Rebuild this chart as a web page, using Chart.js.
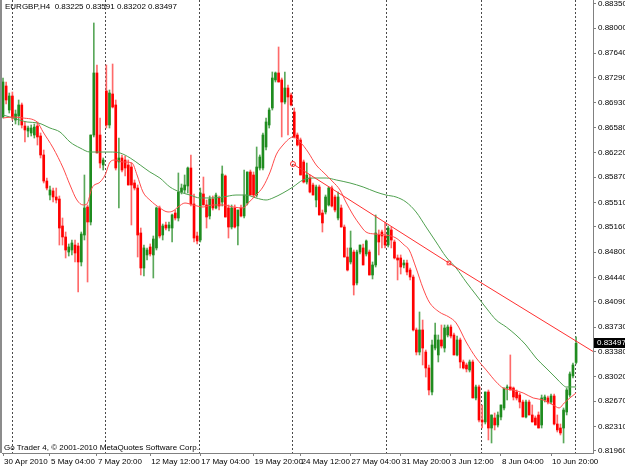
<!DOCTYPE html>
<html>
<head>
<meta charset="utf-8">
<title>EURGBP H4</title>
<script src="https://cdn.jsdelivr.net/npm/chart.js"></script>
<style>
  * { margin: 0; padding: 0; }
  body { background: #fff; }
  .wrap { position: relative; width: 625px; height: 469px; }
  .wrap canvas { position: absolute; left: 0; top: 0; }
  .info { position: absolute; font-family: "Liberation Sans", sans-serif; font-size: 8px; color: #000; white-space: pre; line-height: 10px; }
  #title { left: 5px; top: 2px; }
  #copy { left: 4px; top: 443px; }
  .frame { position: absolute; left: 0; top: 0; width: 2px; height: 453px; background: #8c8c8c; }
</style>
</head>
<body>
<div class="wrap">
  <canvas id="chart" width="625" height="469"></canvas>
  <div class="frame"></div>
  <div class="info" id="title"></div>
  <div class="info" id="copy">Go Trader 4, © 2001-2010 MetaQuotes Software Corp.</div>
</div>
<script>
// EURGBP H4 candles, one entry per bar (oldest first)
const symbol = 'EURGBP,H4';

const opens = [
  0.86729, 0.87172, 0.86829, 0.87029, 0.86686, 0.86744, 0.86901, 0.86601, 0.86529, 0.86501,
  0.86472, 0.86601, 0.86458, 0.86187, 0.85815, 0.85615, 0.85673, 0.85587, 0.85558, 0.85173,
  0.85016, 0.84801, 0.84830, 0.84901, 0.84887, 0.84659, 0.85044, 0.85444, 0.85230, 0.86472,
  0.87358, 0.86472, 0.86044, 0.87101, 0.86615, 0.87058, 0.86901, 0.86087, 0.86144, 0.86115,
  0.86044, 0.86015, 0.85787, 0.85715, 0.85073, 0.84573, 0.84759, 0.84873, 0.84759, 0.84859,
  0.85430, 0.85044, 0.85187, 0.85144, 0.85144, 0.85358, 0.85287, 0.85658, 0.85687, 0.85744,
  0.86001, 0.85487, 0.85030, 0.84973, 0.85630, 0.85473, 0.85316, 0.85558, 0.85430, 0.85573,
  0.85515, 0.85887, 0.85430, 0.85158, 0.85430, 0.85173, 0.85430, 0.85316, 0.85501, 0.85944,
  0.85901, 0.85615, 0.86001, 0.86001, 0.86301, 0.86615, 0.86858, 0.87258, 0.87358, 0.87258,
  0.86943, 0.87143, 0.87043, 0.86801, 0.86472, 0.86401, 0.86087, 0.85801, 0.85858, 0.85758,
  0.85544, 0.85730, 0.85358, 0.85373, 0.85473, 0.85715, 0.85587, 0.85287, 0.85430, 0.85158,
  0.84730, 0.84659, 0.84801, 0.84359, 0.84801, 0.84859, 0.84773, 0.84801, 0.84473, 0.84616,
  0.85044, 0.85087, 0.85030, 0.84901, 0.85116, 0.84944, 0.84716, 0.84716, 0.84616, 0.84644,
  0.84544, 0.84444, 0.83688, 0.83373, 0.83688, 0.83373, 0.83145, 0.82802, 0.83430, 0.83331,
  0.83545, 0.83430, 0.83616, 0.83730, 0.83616, 0.83331, 0.83545, 0.83231, 0.83188, 0.83116,
  0.83231, 0.82717, 0.82874, 0.82402, 0.82374, 0.82802, 0.82288, 0.82431, 0.82331, 0.82445,
  0.82574, 0.82859, 0.82874, 0.82859, 0.82802, 0.82759, 0.82659, 0.82445, 0.82659, 0.82474,
  0.82431, 0.82474, 0.82331, 0.82688, 0.82717, 0.82659, 0.82745, 0.82345, 0.82288, 0.82288,
  0.82517, 0.82759, 0.83031, 0.83225
];
const highs = [
  0.87286, 0.87229, 0.87072, 0.87086, 0.86829, 0.86972, 0.86929, 0.86658, 0.86601, 0.86615,
  0.86629, 0.86658, 0.86501, 0.86258, 0.85858, 0.85744, 0.85715, 0.85715, 0.85601, 0.85287,
  0.85087, 0.84916, 0.84973, 0.84973, 0.84930, 0.85087, 0.85901, 0.85473, 0.86472, 0.88072,
  0.87472, 0.86715, 0.86144, 0.87472, 0.87115, 0.87486, 0.86972, 0.86429, 0.86187, 0.86172,
  0.86115, 0.86072, 0.85830, 0.85758, 0.85144, 0.84901, 0.84859, 0.84916, 0.85030, 0.85444,
  0.85458, 0.85201, 0.85230, 0.85230, 0.85344, 0.85401, 0.85930, 0.85772, 0.85901, 0.86015,
  0.86187, 0.85630, 0.85087, 0.85715, 0.85872, 0.85544, 0.85601, 0.85601, 0.85644, 0.85601,
  0.86030, 0.85901, 0.85473, 0.85473, 0.85473, 0.85401, 0.85473, 0.85972, 0.85944, 0.85972,
  0.85944, 0.86301, 0.86187, 0.86501, 0.86715, 0.86858, 0.87372, 0.87372, 0.87729, 0.87286,
  0.87372, 0.87186, 0.87072, 0.86858, 0.86501, 0.86429, 0.86115, 0.86072, 0.85901, 0.85787,
  0.85758, 0.85758, 0.85401, 0.85615, 0.85730, 0.85744, 0.85615, 0.85658, 0.85473, 0.85187,
  0.84859, 0.85101, 0.84830, 0.84830, 0.84901, 0.84916, 0.84973, 0.84830, 0.84659, 0.85330,
  0.85116, 0.85116, 0.85230, 0.85173, 0.85158, 0.84973, 0.84759, 0.84759, 0.84687, 0.84687,
  0.84573, 0.84473, 0.83716, 0.83945, 0.83830, 0.83402, 0.83188, 0.83545, 0.83788, 0.83616,
  0.83759, 0.83759, 0.83759, 0.83759, 0.83645, 0.83602, 0.83573, 0.83259, 0.83216, 0.83259,
  0.83259, 0.82902, 0.82902, 0.82617, 0.82802, 0.82831, 0.82474, 0.82502, 0.82517, 0.82617,
  0.82859, 0.82902, 0.83331, 0.82874, 0.82831, 0.82788, 0.82688, 0.82688, 0.82688, 0.82617,
  0.82460, 0.82517, 0.82759, 0.82759, 0.82745, 0.82774, 0.82774, 0.82474, 0.82345, 0.82574,
  0.82859, 0.83088, 0.83216, 0.83591
];
const lows = [
  0.86715, 0.86915, 0.86786, 0.86686, 0.86629, 0.86615, 0.86572, 0.86372, 0.86444, 0.86458,
  0.86429, 0.86329, 0.86144, 0.85787, 0.85687, 0.85544, 0.85515, 0.85501, 0.84901, 0.84901,
  0.84716, 0.84744, 0.84759, 0.84659, 0.84230, 0.84602, 0.84973, 0.84373, 0.85187, 0.86444,
  0.86215, 0.86001, 0.85972, 0.86572, 0.86572, 0.86858, 0.85972, 0.85430, 0.85944, 0.85887,
  0.85758, 0.85187, 0.85687, 0.84730, 0.84473, 0.84459, 0.84687, 0.84744, 0.84430, 0.84830,
  0.85001, 0.84973, 0.85116, 0.85101, 0.84944, 0.85258, 0.85244, 0.85630, 0.85644, 0.85644,
  0.85458, 0.84944, 0.84916, 0.84944, 0.85473, 0.85144, 0.85273, 0.85401, 0.85415, 0.85401,
  0.85458, 0.85301, 0.85001, 0.85130, 0.85144, 0.84901, 0.85301, 0.85287, 0.85473, 0.85615,
  0.85587, 0.85587, 0.85972, 0.85972, 0.86258, 0.86572, 0.86829, 0.87229, 0.87229, 0.86444,
  0.86915, 0.86472, 0.86886, 0.86429, 0.86315, 0.85901, 0.85787, 0.85772, 0.85644, 0.85615,
  0.85444, 0.85330, 0.85087, 0.85344, 0.85458, 0.85444, 0.85373, 0.85258, 0.85158, 0.84730,
  0.84530, 0.84630, 0.84187, 0.84330, 0.84773, 0.84616, 0.84744, 0.84473, 0.84416, 0.84587,
  0.84759, 0.84859, 0.84859, 0.84873, 0.84859, 0.84701, 0.84402, 0.84487, 0.84573, 0.84473,
  0.84402, 0.83673, 0.83331, 0.83331, 0.83188, 0.83016, 0.82759, 0.82759, 0.83402, 0.83231,
  0.83430, 0.83373, 0.83588, 0.83573, 0.83331, 0.83316, 0.83145, 0.83131, 0.83088, 0.83088,
  0.82717, 0.82688, 0.82374, 0.82288, 0.82345, 0.82117, 0.82074, 0.82260, 0.82302, 0.82402,
  0.82545, 0.82688, 0.82831, 0.82688, 0.82688, 0.82574, 0.82445, 0.82431, 0.82474, 0.82374,
  0.82331, 0.82288, 0.82288, 0.82659, 0.82631, 0.82631, 0.82331, 0.82231, 0.82188, 0.82074,
  0.82474, 0.82731, 0.83002, 0.83202
];
const closes = [
  0.87229, 0.86972, 0.87029, 0.86715, 0.86772, 0.86901, 0.86615, 0.86544, 0.86572, 0.86572,
  0.86586, 0.86444, 0.86187, 0.85815, 0.85715, 0.85687, 0.85587, 0.85544, 0.85144, 0.85016,
  0.84830, 0.84873, 0.84930, 0.84787, 0.84659, 0.85058, 0.85430, 0.85230, 0.86472, 0.87358,
  0.86215, 0.86072, 0.86115, 0.86615, 0.87072, 0.86872, 0.86001, 0.86144, 0.85972, 0.86001,
  0.85758, 0.85758, 0.85715, 0.85044, 0.84573, 0.84859, 0.84830, 0.84773, 0.84987, 0.85430,
  0.85030, 0.85173, 0.85144, 0.85187, 0.85330, 0.85287, 0.85658, 0.85715, 0.85758, 0.86001,
  0.85487, 0.85001, 0.84959, 0.85644, 0.85473, 0.85301, 0.85558, 0.85430, 0.85615, 0.85458,
  0.85915, 0.85301, 0.85158, 0.85430, 0.85158, 0.85401, 0.85316, 0.85615, 0.85944, 0.85615,
  0.85615, 0.86015, 0.86158, 0.86472, 0.86658, 0.86829, 0.87286, 0.87358, 0.87229, 0.86943,
  0.87143, 0.87015, 0.86901, 0.86444, 0.86329, 0.85901, 0.85801, 0.85901, 0.85658, 0.85615,
  0.85730, 0.85330, 0.85216, 0.85587, 0.85715, 0.85458, 0.85401, 0.85587, 0.85158, 0.84730,
  0.84544, 0.84859, 0.84330, 0.84801, 0.84901, 0.84616, 0.84959, 0.84473, 0.84616, 0.85073,
  0.84944, 0.85030, 0.84901, 0.85144, 0.84973, 0.84716, 0.84687, 0.84587, 0.84644, 0.84516,
  0.84444, 0.83688, 0.83373, 0.83688, 0.83430, 0.83145, 0.82831, 0.83473, 0.83616, 0.83545,
  0.83459, 0.83716, 0.83730, 0.83602, 0.83331, 0.83545, 0.83231, 0.83145, 0.83131, 0.83231,
  0.82717, 0.82874, 0.82402, 0.82374, 0.82802, 0.82288, 0.82474, 0.82331, 0.82474, 0.82617,
  0.82859, 0.82874, 0.82831, 0.82731, 0.82717, 0.82659, 0.82445, 0.82659, 0.82474, 0.82374,
  0.82331, 0.82288, 0.82717, 0.82731, 0.82659, 0.82745, 0.82345, 0.82260, 0.82217, 0.82545,
  0.82831, 0.83059, 0.83188, 0.83497
];

// moving averages (bar index, price)
const fastMaBars = [0, 3.2, 6.4, 10.9, 12.8, 16, 19.2, 21.4, 23.6, 25.6, 26.8, 28.4, 31, 32.6, 34.2, 35.8, 38.3, 41.2, 42.8, 44.7,
  46.9, 50.1, 52.7, 54.3, 55.9, 58.1, 60.7, 63.9, 67.1, 70.3, 73.5, 76.7, 78.3, 80.8, 83, 85.3, 87.2, 89.4, 91.7, 92.6,
  94.9, 97.4, 100, 102.2, 105.4, 107.6, 109.5, 111.8, 114, 115.9, 118.8, 122.3, 125.5, 128.1, 129.7, 131.9, 134.1, 136.1, 139.3, 142.4,
  144.7, 147.9, 151.1, 154.3, 157.5, 159.7, 162.9, 166.1, 169.3, 172.5, 175.7, 177.6, 179.2, 181.4, 183];
const fastMa = [0.86715, 0.86729, 0.86715, 0.86658, 0.86515, 0.86287, 0.86001, 0.85758, 0.85544, 0.85473, 0.85487, 0.85715, 0.85801, 0.85901, 0.86087, 0.86115, 0.86087, 0.86072, 0.85901, 0.85658,
  0.85544, 0.85430, 0.85373, 0.85387, 0.85444, 0.85501, 0.85473, 0.85444, 0.85473, 0.85473, 0.85444, 0.85430, 0.85501, 0.85615, 0.85730, 0.85944, 0.86187, 0.86329, 0.86429, 0.86444,
  0.86372, 0.86229, 0.86044, 0.85944, 0.85801, 0.85687, 0.85515, 0.85330, 0.85187, 0.85087, 0.85058, 0.85044, 0.85001, 0.84901, 0.84830, 0.84573, 0.84287, 0.84087, 0.83945, 0.83873,
  0.83788, 0.83516, 0.83288, 0.83116, 0.82945, 0.82859, 0.82831, 0.82788, 0.82717, 0.82688, 0.82617, 0.82574, 0.82645, 0.82731, 0.82788];

const slowMaBars = [0, 3.2, 7.7, 11.2, 15, 18.2, 21.4, 24.6, 27.8, 31, 34.2, 37.4, 40.6, 43.8, 46.9, 50.1, 53.3, 56.5, 59.7, 62.9,
  67.1, 70.3, 74.4, 77.6, 80.8, 84, 86.2, 89.4, 92.6, 95.8, 99, 103.2, 106.4, 110.8, 115, 119.1, 122.3, 125.5, 128.7, 131.9,
  135.1, 138.3, 141.5, 144.7, 147.9, 151.1, 154.3, 157.5, 160.7, 163.8, 167, 170.2, 173.4, 176.6, 178.8, 179.8, 183];
const slowMa = [0.86758, 0.86715, 0.86658, 0.86644, 0.86572, 0.86515, 0.86372, 0.86287, 0.86229, 0.86229, 0.86229, 0.86215, 0.86144, 0.86044, 0.85944, 0.85858, 0.85730, 0.85658, 0.85615, 0.85573,
  0.85573, 0.85587, 0.85615, 0.85615, 0.85573, 0.85544, 0.85573, 0.85644, 0.85730, 0.85830, 0.85858, 0.85858, 0.85830, 0.85787, 0.85730, 0.85658, 0.85615, 0.85587, 0.85515, 0.85373,
  0.85158, 0.84944, 0.84730, 0.84573, 0.84373, 0.84187, 0.84002, 0.83830, 0.83730, 0.83616, 0.83473, 0.83288, 0.83145, 0.83002, 0.82902, 0.82874, 0.82874];

// hand-drawn trendline anchors
const trendBars = [92.6, 142.4, 188.4];
const trendPrices = [0.86058, 0.84644, 0.83381];

// axes
const priceTicks = [0.88350, 0.88000, 0.87640, 0.87290, 0.86930, 0.86580, 0.86220, 0.85870, 0.85510, 0.85160,
  0.84800, 0.84440, 0.84090, 0.83730, 0.83380, 0.83020, 0.82670, 0.82310, 0.81960];
const timeTickBars = [0, 15, 30, 47, 63, 80, 95, 111, 127, 143, 159, 175];
const timeTickLabels = ['30 Apr 2010', '5 May 04:00', '7 May 20:00', '12 May 12:00', '17 May 04:00', '19 May 20:00',
  '24 May 12:00', '27 May 04:00', '31 May 20:00', '3 Jun 12:00', '8 Jun 04:00', '10 Jun 20:00'];
const gridBars = [2.9, 32.6, 62.6, 92.6, 122.6, 152.7, 182.7];

const last = closes.length - 1;
document.getElementById('title').textContent = symbol + '  ' + [opens[last], highs[last], lows[last], closes[last]].map(v => v.toFixed(5)).join(' ');

const up = closes.map((c, i) => c >= opens[i]);
const font = { family: 'Liberation Sans', size: 8 };
const xMin = -0.32, xMax = 188.4;

const priceBox = {
  id: 'priceBox',
  afterDraw(chart) {
    const { ctx } = chart;
    const y = chart.scales.y;
    const py = Math.round(y.getPixelForValue(closes[last]));
    ctx.save();
    ctx.fillStyle = '#000';
    ctx.fillRect(y.left + 1, py - 5, 31, 10);
    ctx.fillStyle = '#fff';
    ctx.font = '8px "Liberation Sans"';
    ctx.textBaseline = 'middle';
    ctx.fillText(closes[last].toFixed(5), y.left + 4, py);
    ctx.restore();
  }
};

new Chart(document.getElementById('chart'), {
  data: {
    datasets: [
      {
        type: 'line',
        data: trendBars.map((b, i) => ({ x: b, y: trendPrices[i] })),
        borderColor: '#ff3030', borderWidth: 1,
        pointStyle: ['circle', 'rect', 'circle'], pointRadius: [2.5, 2.5, 0],
        pointBorderColor: '#ff3030', pointBackgroundColor: 'rgba(255,255,255,0)', pointBorderWidth: 1
      },
      {
        type: 'line',
        data: fastMaBars.map((b, i) => ({ x: b, y: fastMa[i] })),
        borderColor: '#ff4a4a', borderWidth: 1, pointRadius: 0, cubicInterpolationMode: 'monotone'
      },
      {
        type: 'line',
        data: slowMaBars.map((b, i) => ({ x: b, y: slowMa[i] })),
        borderColor: '#4fa04f', borderWidth: 1, pointRadius: 0, cubicInterpolationMode: 'monotone'
      },
      {
        type: 'bar',
        data: closes.map((c, i) => ({ x: i, y: [opens[i], c] })),
        backgroundColor: up.map(u => u ? '#1f8c1f' : '#ff0000'),
        barThickness: 2, grouped: false, minBarLength: 1, borderWidth: 0
      },
      {
        type: 'bar',
        data: closes.map((c, i) => ({ x: i, y: [lows[i], highs[i]] })),
        backgroundColor: up.map(u => u ? '#5aa85a' : '#ff6a6a'),
        barThickness: 1, grouped: false, borderWidth: 0
      }
    ]
  },
  options: {
    responsive: false,
    animation: false,
    events: [],
    layout: { autoPadding: false, padding: { left: 2, top: 0, right: 0, bottom: 0 } },
    plugins: { legend: { display: false }, tooltip: { enabled: false } },
    scales: {
      x: {
        type: 'linear', position: 'bottom', min: xMin, max: xMax, offset: false,
        afterBuildTicks: s => { s.ticks = timeTickBars.map(v => ({ value: v })); },
        ticks: {
          autoSkip: false, maxRotation: 0, minRotation: 0, align: 'start', labelOffset: 1, padding: 1,
          font: font, color: '#000',
          callback: (v, i) => timeTickLabels[i]
        },
        grid: { drawOnChartArea: false, tickLength: 3, color: '#808080', offset: false },
        border: { color: '#808080' },
        afterFit: s => { s.height = 16; s.paddingLeft = 0; s.paddingRight = 0; }
      },
      xg: {
        type: 'linear', position: 'bottom', min: xMin, max: xMax, offset: false,
        afterBuildTicks: s => { s.ticks = gridBars.map(v => ({ value: v })); },
        ticks: { display: false },
        grid: { drawTicks: false, color: '#4a4a4a', lineWidth: 1, offset: false },
        border: { display: false, dash: [2, 2] },
        afterFit: s => { s.height = 0; s.paddingLeft = 0; s.paddingRight = 0; }
      },
      y: {
        type: 'linear', position: 'right', min: 0.81931, max: 0.884,
        afterBuildTicks: s => { s.ticks = priceTicks.map(v => ({ value: v })); },
        ticks: { font: font, color: '#000', padding: 2, callback: v => v.toFixed(5) },
        grid: { drawOnChartArea: false, tickLength: 3, color: '#808080' },
        border: { color: '#808080' },
        afterFit: s => { s.width = 32; s.paddingTop = 0; s.paddingBottom = 0; }
      }
    }
  },
  plugins: [priceBox]
});
</script>
</body>
</html>
